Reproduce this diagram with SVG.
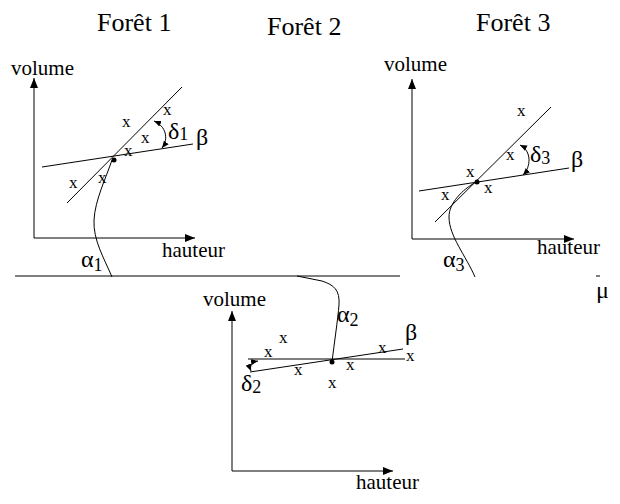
<svg xmlns="http://www.w3.org/2000/svg" width="620" height="504" viewBox="0 0 620 504" font-family="'Liberation Serif', 'Times New Roman', serif">
<defs>
<marker id="ah" markerWidth="10" markerHeight="8" refX="10" refY="4" orient="auto" markerUnits="userSpaceOnUse">
<path d="M0,0 L10,4 L0,8 Z" fill="#000"/>
</marker>
<marker id="sh" markerWidth="7" markerHeight="6" refX="7" refY="3" orient="auto-start-reverse" markerUnits="userSpaceOnUse">
<path d="M0,0 L7,3 L0,6 Z" fill="#000"/>
</marker>
<style>
text{font-family:"Liberation Serif","Times New Roman",serif;fill:#000}
.t{font-size:26px}
.a{font-size:21px}
.x{font-size:17px}
.g{font-size:24px}
.s{font-size:18px}
line,path.l{stroke:#000;stroke-width:1;fill:none}
.ax{marker-end:url(#ah)}
.arc{marker-start:url(#sh);marker-end:url(#sh)}
</style>
</defs>
<rect width="620" height="504" fill="#fff"/>

<g id="titles">
<text class="t" x="97" y="31">Forêt 1</text>
<text class="t" x="267" y="35">Forêt 2</text>
<text class="t" x="476" y="31">Forêt 3</text>
</g>

<g id="baseline">
<line x1="15" y1="276" x2="400" y2="276"/>
</g>

<g id="foret1">
<line class="ax" x1="34" y1="238" x2="34" y2="78"/>
<line class="ax" x1="34" y1="238" x2="195" y2="238"/>
<text class="a" x="11" y="75">volume</text>
<text class="a" x="162" y="257">hauteur</text>
<line x1="67" y1="203" x2="182" y2="87"/>
<line x1="42" y1="167" x2="193" y2="144"/>
<circle cx="114" cy="160" r="2.5"/>
<text class="x" x="122" y="127">x</text>
<text class="x" x="163" y="115">x</text>
<text class="x" x="141" y="143">x</text>
<text class="x" x="124" y="156">x</text>
<text class="x" x="69" y="188">x</text>
<text class="x" x="98" y="183">x</text>
<path class="l arc" d="M154,121 C166,126 169,139 162,148"/>
<text class="g" x="168" y="139">δ<tspan class="s" dy="1">1</tspan></text>
<text class="g" x="196" y="145">β</text>
<text class="g" x="81" y="267">α<tspan class="s" dy="4">1</tspan></text>
</g>

<g id="foret3">
<line class="ax" x1="412" y1="239" x2="412" y2="79"/>
<line class="ax" x1="412" y1="239" x2="574" y2="239"/>
<text class="a" x="384" y="71">volume</text>
<text class="a" x="537" y="254">hauteur</text>
<line x1="435" y1="222" x2="551" y2="107"/>
<line x1="419" y1="191" x2="569" y2="168"/>
<circle cx="477" cy="182" r="2.5"/>
<text class="x" x="517" y="116">x</text>
<text class="x" x="506" y="160">x</text>
<text class="x" x="466" y="177">x</text>
<text class="x" x="484" y="193">x</text>
<text class="x" x="441" y="200">x</text>
<path class="l arc" d="M520,145 C532,151 531,167 523,175"/>
<text class="g" x="530" y="162">δ<tspan class="s" dy="2">3</tspan></text>
<text class="g" x="571" y="167">β</text>
<text class="g" x="443" y="267">α<tspan class="s" dy="4">3</tspan></text>
</g>

<g id="foret2">
<line class="ax" x1="232" y1="471" x2="232" y2="311"/>
<line class="ax" x1="232" y1="471" x2="393" y2="471"/>
<text class="a" x="203" y="306">volume</text>
<text class="a" x="356" y="489">hauteur</text>
<line x1="248" y1="359" x2="405" y2="359"/>
<line x1="250" y1="372" x2="403" y2="349"/>
<circle cx="332" cy="362" r="2.5"/>
<text class="x" x="264" y="357">x</text>
<text class="x" x="279" y="343">x</text>
<text class="x" x="294" y="375">x</text>
<text class="x" x="346" y="370">x</text>
<text class="x" x="328" y="388">x</text>
<text class="x" x="378" y="353">x</text>
<text class="x" x="406" y="361">x</text>
<path class="l arc" d="M258,361 C252,362 249,366 251,371"/>
<text class="g" x="241" y="391">δ<tspan class="s" dy="2">2</tspan></text>
<text class="g" x="405" y="340">β</text>
<text class="g" x="337" y="322">α<tspan class="s" dy="4">2</tspan></text>
</g>

<g id="connectors">
<path class="l" d="M112,160 C106,178 95,200 94,220 C93,240 104,258 112,277"/>
<path class="l" d="M476,182 C462,190 449,203 449,217 C449,236 466,256 475,277"/>
<path class="l" d="M332,362 C334,345 338,318 339,305 C340,290 334,285 322,281 L297,276"/>
</g>

<g id="mu">
<line x1="596" y1="276" x2="600" y2="276"/>
<text class="g" x="596" y="298">μ</text>
</g>
</svg>
